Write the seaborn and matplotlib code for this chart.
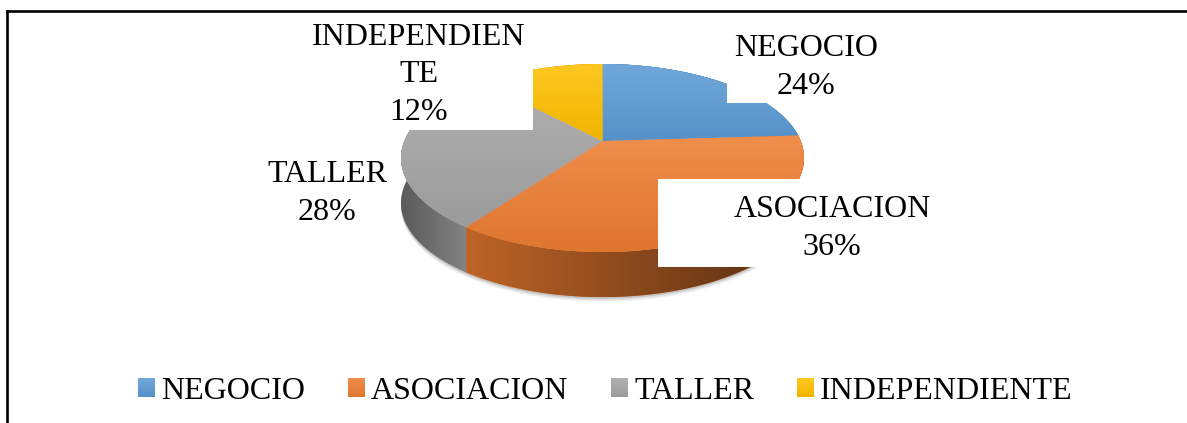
import numpy as np
import seaborn as sns
import matplotlib.pyplot as plt
from matplotlib.patches import Patch, Rectangle
from matplotlib.transforms import Transform

names = ["NEGOCIO", "ASOCIACION", "TALLER", "INDEPENDIENTE"]
wrapped_names = ["NEGOCIO", "ASOCIACION", "TALLER", "INDEPENDIEN\nTE"]
shares = [24, 36, 28, 12]
colors = ["#5b9bd5", "#ed7d31", "#a5a5a5", "#ffc000"]

W, H = 1187, 423
CX, CY, RX, RY = 602.5, 158, 201.5, 94   # top ellipse in pixels
K = 0.18        # perspective, moves the apex up from the ellipse centre
DEPTH = 0.48    # pie thickness in ellipse units
FONT = 23.0

sns.set_theme(style="white")
plt.rcParams["font.family"] = ["Liberation Serif", "DejaVu Serif"]


def project(xy):
    u, v = xy[:, 0], xy[:, 1]
    w = 1 + K * v
    return np.column_stack([u * np.sqrt(1 - K**2) / w, (v + K) / w])


class Tilt(Transform):
    input_dims = 2
    output_dims = 2

    def transform_non_affine(self, values):
        return project(np.asarray(values))


def dx(px):
    return (px - CX) / RX


def dy(py):
    return (CY - py) / RY


def down_gradient(ax, base, y_low, y_high, x0, x1, clip=None, z=5):
    base = np.array(sns.desaturate(base, 1))
    top = base + (1 - base) * 0.13
    bottom = base * 0.94
    t = np.linspace(0, 1, 64)[:, None, None]
    im = ax.imshow(top * (1 - t) + bottom * t, extent=[x0, x1, y_low, y_high], origin="upper",
                   aspect="auto", zorder=z, interpolation="bilinear")
    if clip is not None:
        im.set_clip_path(clip)
    return im


fig = plt.figure(figsize=(W / 100, H / 100), dpi=100)
ax = fig.add_axes([6.5 / W, 0, 1 - 6.5 / W, 1 - 11 / H])
wedges, _ = ax.pie(shares, colors=colors, startangle=90, counterclock=False, radius=1)
ax.set_aspect("auto")
ax.set_frame_on(True)
ax.set_xlim(dx(6.5), dx(W))
ax.set_ylim(dy(H), dy(11))
sns.despine(ax=ax, top=False, left=False, right=True, bottom=True)
for side in ["top", "left"]:
    ax.spines[side].set_color("black")
    ax.spines[side].set_linewidth(1.9)

# soft shadow under the pie
t = np.radians(np.linspace(180, 360, 120))
outline = project(np.column_stack([np.cos(t), np.sin(t)]))
for extra, alpha in [(0.05, 0.05), (0.035, 0.08), (0.018, 0.12)]:
    ax.fill(outline[:, 0], outline[:, 1] - DEPTH - extra, color="black", alpha=alpha, lw=0, zorder=1)

# side walls, light falls off towards the right
for wedge, col in zip(wedges, colors):
    t = np.radians(np.linspace(wedge.theta1, wedge.theta2, 80))
    arc = project(np.column_stack([np.cos(t), np.sin(t)]))
    px = np.concatenate([arc[:, 0], arc[::-1, 0]])
    py = np.concatenate([arc[:, 1], arc[::-1, 1] - DEPTH])
    poly = ax.fill(px, py, color=col, lw=0, zorder=2)[0]
    xs = np.linspace(-1, 1, 200)
    light = np.interp(xs, [-1, -0.67, 1], [0.55, 0.8, 0.36])[None, :, None]
    im = ax.imshow(np.array(sns.desaturate(col, 1))[None, None, :] * light,
                   extent=[-1, 1, -1 - DEPTH, 1], aspect="auto", zorder=3, interpolation="bilinear")
    im.set_clip_path(poly)

# top faces
for wedge, col in zip(wedges, colors):
    wedge.set_transform(Tilt() + ax.transData)
    wedge.set_zorder(4)
    wedge.set_linewidth(0)
    verts = project(wedge.get_path().vertices)
    down_gradient(ax, col, verts[:, 1].min(), verts[:, 1].max(), -1, 1, clip=wedge)

# white backgrounds of the data labels cover the pie
for x0, y0, x1, y1 in [(310, 20, 533, 130), (727, 30, 885, 103), (658, 179, 940, 267)]:
    ax.add_patch(Rectangle((dx(x0), dy(y1)), dx(x1) - dx(x0), dy(y0) - dy(y1),
                           color="white", lw=0, zorder=6))

label_pos = [(806.5, 67.5), (832, 228.5), (327, 193.5), (419, 75)]
for name, share, (x, y) in zip(wrapped_names, shares, label_pos):
    ax.text(dx(x), dy(y), f"{name}\n{share}%", ha="center", va="center", fontsize=FONT,
            color="black", linespacing=1.38, zorder=7)

handles = [Patch(color=c, label=n, lw=0) for c, n in zip(colors, names)]
leg = ax.legend(handles=handles, loc="center", bbox_to_anchor=(605.5 / W, 1 - 391 / H),
                bbox_transform=fig.transFigure, ncol=4, frameon=False, fontsize=FONT,
                borderpad=0, handlelength=0.53, handleheight=0.53, handletextpad=0.2,
                columnspacing=1.33, labelcolor="black")

# gradient on the legend swatches too
fig.canvas.draw()
inv = ax.transData.inverted()
for handle, col in zip(leg.legend_handles, colors):
    box = handle.get_window_extent().transformed(inv)
    down_gradient(ax, col, box.y0, box.y1, box.x0, box.x1, z=8)

fig.savefig("out.png", dpi=100)
